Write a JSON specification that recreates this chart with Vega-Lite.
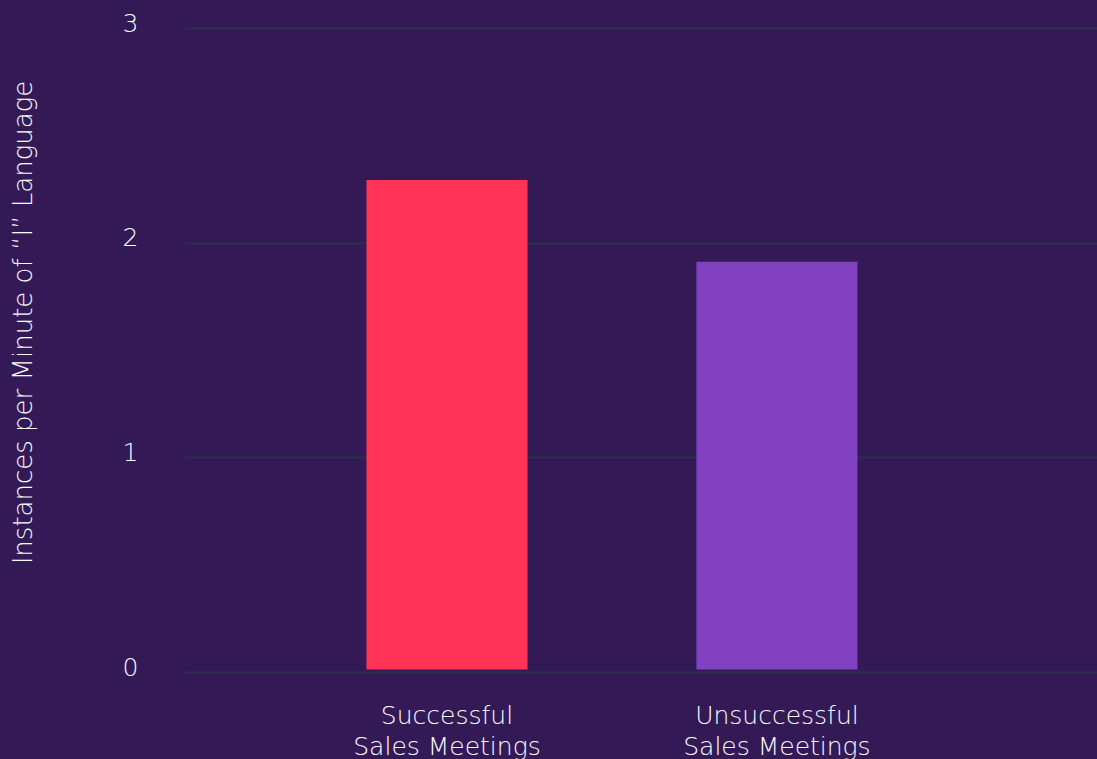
{
  "$schema": "https://vega.github.io/schema/vega-lite/v6.json",
  "width": 912,
  "height": 644,
  "autosize": {"type": "none"},
  "padding": {"left": 185, "top": 28, "right": 0, "bottom": 87},
  "background": "#331a57",
  "config": {
    "view": {"stroke": null},
    "font": "DejaVu Sans",
    "axis": {
      "labelFont": "DejaVu Sans",
      "titleFont": "DejaVu Sans",
      "labelFontWeight": 200,
      "titleFontWeight": 200,
      "labelColor": "#fbfaff",
      "titleColor": "#fbfaff",
      "labelFontSize": 25,
      "titleFontSize": 26,
      "labelLimit": 400
    }
  },
  "data": {
    "values": [
      {"meeting": "Successful Sales Meetings", "rate": 2.28},
      {"meeting": "Unsuccessful Sales Meetings", "rate": 1.9}
    ]
  },
  "mark": {"type": "bar", "yOffset": -2.5},
  "encoding": {
    "x": {
      "field": "meeting",
      "type": "nominal",
      "sort": null,
      "scale": {"paddingInner": 0.512, "paddingOuter": 0.638, "align": 0.431},
      "axis": {
        "title": null,
        "labelAngle": 0,
        "domain": false,
        "ticks": false,
        "tickSize": 0,
        "labelPadding": 31,
        "labelBaseline": "top",
        "labelLineHeight": 31,
        "labelLimit": 400,
        "labelExpr": "[replace(datum.label, ' Sales Meetings', ''), 'Sales Meetings']"
      }
    },
    "y": {
      "field": "rate",
      "type": "quantitative",
      "scale": {"domain": [0, 3], "nice": false},
      "axis": {
        "title": "Instances per Minute of “I” Language",
        "values": [0, 1, 2, 3],
        "domain": false,
        "ticks": false,
        "tickSize": 0,
        "labelPadding": 47,
        "labelOffset": -5,
        "grid": true,
        "gridColor": "#283244",
        "gridWidth": 2,
        "titleAngle": -90,
        "titleX": -161.5,
        "titleY": 294,
        "titleAlign": "center",
        "titleBaseline": "middle"
      }
    },
    "color": {
      "field": "meeting",
      "type": "nominal",
      "sort": null,
      "scale": {"range": ["#ff3355", "#8040c0"]},
      "legend": null
    }
  }
}
